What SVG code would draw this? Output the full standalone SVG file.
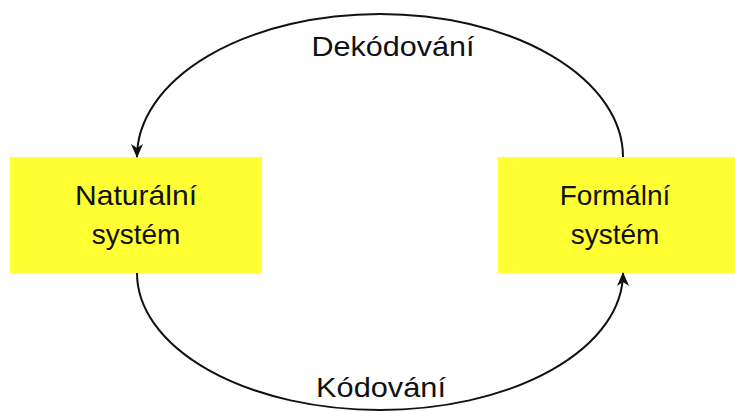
<svg xmlns="http://www.w3.org/2000/svg" width="735" height="412" viewBox="0 0 735 412">
<style>
.box{fill:#ffff33;stroke:none}
.t{font-family:"Liberation Sans",Arial,sans-serif;font-size:28px;fill:#111;text-anchor:middle}
.l{font-family:"Liberation Sans",Arial,sans-serif;font-size:28px;fill:#111;text-anchor:middle}
.c{fill:none;stroke:#111;stroke-width:2}
</style>
<defs>
<marker id="ah" viewBox="0 0 14 12" refX="13" refY="6" markerWidth="14" markerHeight="12" markerUnits="userSpaceOnUse" orient="auto">
<path d="M0,0 L14,6 L0,12 L4,6 Z" fill="#111"/>
</marker>
</defs>
<g id="naturalni">
<rect class="box" x="10" y="157" width="252" height="116"/>
<text class="t" x="136" y="205" textLength="122" lengthAdjust="spacingAndGlyphs">Naturální</text>
<text class="t" x="136" y="244">systém</text>
</g>
<g id="formalni">
<rect class="box" x="498" y="157" width="237" height="116"/>
<text class="t" x="615" y="205">Formální</text>
<text class="t" x="615" y="244">systém</text>
</g>
<g id="connectors">
<path class="c" d="M 623 157 A 243 143 0 0 0 137 157" marker-end="url(#ah)"/>
<path class="c" d="M 137 273 A 243 137 0 0 0 623 273" marker-end="url(#ah)"/>
<text class="l" x="393" y="56" textLength="163" lengthAdjust="spacingAndGlyphs">Dekódování</text>
<text class="l" x="381" y="397" textLength="130" lengthAdjust="spacingAndGlyphs">Kódování</text>
</g>
</svg>
